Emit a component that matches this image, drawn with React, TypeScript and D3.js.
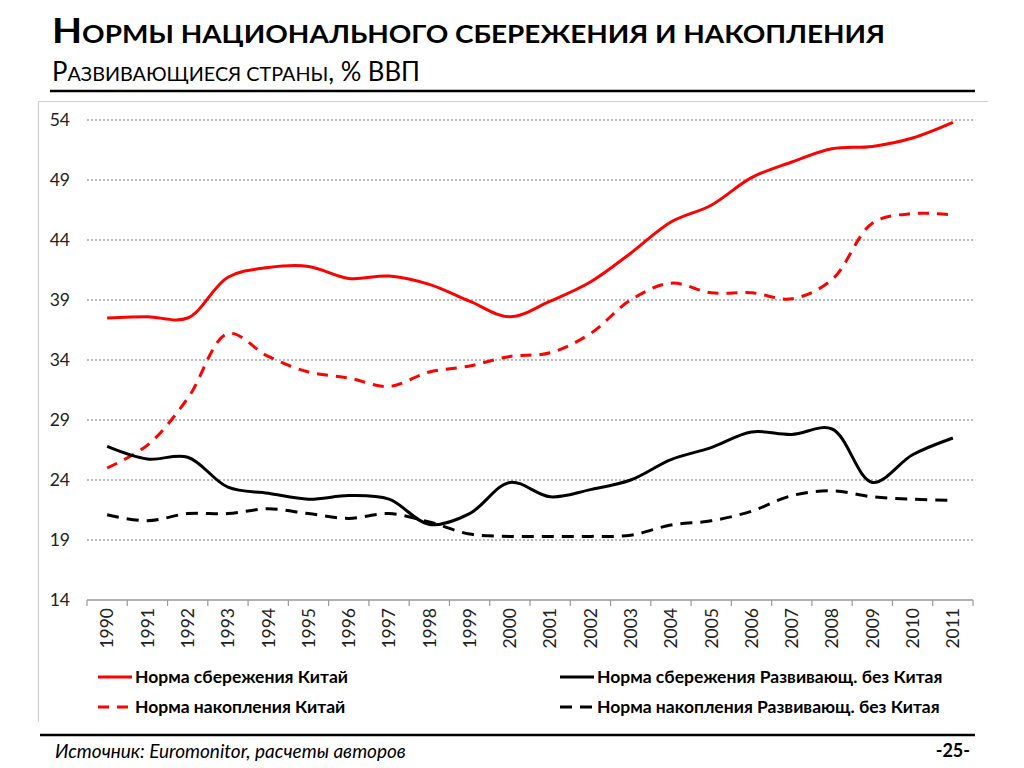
import React from "react";
import * as d3 from "d3";

const years = ["1990","1991","1992","1993","1994","1995","1996","1997","1998","1999","2000","2001","2002","2003","2004","2005","2006","2007","2008","2009","2010","2011"];
const savingsChina = [37.5,37.6,37.5,40.9,41.7,41.8,40.8,41.0,40.3,38.9,37.6,38.9,40.5,42.9,45.5,46.9,49.2,50.5,51.6,51.8,52.5,53.8];
const accumChina = [25.0,26.9,30.8,36.2,34.3,33.0,32.5,31.8,33.0,33.5,34.3,34.6,36.2,39.0,40.4,39.6,39.6,39.1,40.7,45.4,46.2,46.1];
const savingsDev = [26.8,25.75,25.9,23.4,22.9,22.4,22.7,22.4,20.3,21.2,23.8,22.6,23.2,24.0,25.7,26.7,28.0,27.8,28.25,23.8,26.1,27.5];
const accumDev = [21.1,20.6,21.2,21.2,21.6,21.2,20.8,21.2,20.5,19.5,19.3,19.3,19.3,19.4,20.25,20.6,21.4,22.7,23.1,22.6,22.4,22.3];
const yTicks = [14,19,24,29,34,39,44,49,54];

const seriesNames = [
  "Норма сбережения Китай",
  "Норма накопления Китай",
  "Норма сбережения Развивающ. без Китая",
  "Норма накопления Развивающ. без Китая",
];

const FONT = "Lato, 'Open Sans', sans-serif";

export default function App() {
  const x = d3.scaleBand<string>().domain(years).range([87, 973]).padding(0);
  const y = d3.scaleLinear().domain([14, 54]).range([600, 120]);
  const cx = (yr: string) => (x(yr) as number) + x.bandwidth() / 2;
  const line = d3
    .line<number>()
    .x((_, i) => cx(years[i]))
    .y((d) => y(d))
    .curve(d3.curveCatmullRom.alpha(0.5));

  const series = [
    { name: seriesNames[0], data: savingsChina, color: "#ff0000", dash: undefined },
    { name: seriesNames[1], data: accumChina, color: "#ff0000", dash: "11,8" },
    { name: seriesNames[2], data: savingsDev, color: "#000000", dash: undefined },
    { name: seriesNames[3], data: accumDev, color: "#000000", dash: "12,8" },
  ];

  const boundaries = d3.range(years.length + 1).map((i) => 87 + i * x.bandwidth());

  const legendPos = [
    { lx: 98, ly: 677 },
    { lx: 98, ly: 707 },
    { lx: 560, ly: 677 },
    { lx: 560, ly: 707 },
  ];

  return (
    <div style={{ position: "fixed", left: 0, top: 0 }}>
      <svg width={1024} height={768} style={{ display: "block", background: "#fff" }}>
        {/* title */}
        <text x={52} y={43} fontFamily={FONT} fontWeight={700} fill="#000" textLength={833} lengthAdjust="spacingAndGlyphs">
          <tspan fontSize={35}>Н</tspan>
          <tspan fontSize={25}>ОРМЫ НАЦИОНАЛЬНОГО СБЕРЕЖЕНИЯ И НАКОПЛЕНИЯ</tspan>
        </text>
        <text x={52} y={81} fontFamily={FONT} fontWeight={400} fill="#000" textLength={368} lengthAdjust="spacingAndGlyphs">
          <tspan fontSize={26}>Р</tspan>
          <tspan fontSize={20}>АЗВИВАЮЩИЕСЯ СТРАНЫ</tspan>
          <tspan fontSize={26}>, % ВВП</tspan>
        </text>
        <line x1={50} x2={975} y1={91} y2={91} stroke="#000" strokeWidth={2.5} />

        {/* chart frame */}
        <line x1={38} x2={988} y1={101.5} y2={101.5} stroke="#cfcfcf" strokeWidth={1.2} />
        <line x1={38.5} x2={38.5} y1={101} y2={722} stroke="#cfcfcf" strokeWidth={1.2} />

        {/* grid */}
        {yTicks.filter((t) => t !== 14).map((t) => (
          <line key={t} x1={87} x2={973} y1={y(t)} y2={y(t)} stroke="#777" strokeWidth={1} strokeDasharray="2,2" />
        ))}
        {yTicks.map((t) => (
          <text key={"yl" + t} x={70} y={y(t)} dy="0.36em" textAnchor="end" fontFamily={FONT} fontSize={17.5} fill="#222">
            {t}
          </text>
        ))}

        {/* x axis */}
        <line x1={87} x2={973} y1={600} y2={600} stroke="#999" strokeWidth={1.5} />
        {boundaries.map((b, i) => (
          <line key={"tk" + i} x1={b} x2={b} y1={600} y2={606} stroke="#999" strokeWidth={1.2} />
        ))}
        {years.map((yr) => (
          <text
            key={"xl" + yr}
            transform={`translate(${cx(yr)},${608}) rotate(-90)`}
            textAnchor="end"
            dy="0.36em"
            fontFamily={FONT}
            fontSize={17.5}
            fill="#222"
          >
            {yr}
          </text>
        ))}

        {/* lines */}
        {series.map((s) => (
          <path
            key={s.name}
            d={line(s.data) as string}
            fill="none"
            stroke={s.color}
            strokeWidth={3}
            strokeDasharray={s.dash}
            strokeLinejoin="round"
          />
        ))}

        {/* legend */}
        {series.map((s, i) => (
          <g key={"lg" + i}>
            <line
              x1={legendPos[i].lx}
              x2={legendPos[i].lx + 34}
              y1={legendPos[i].ly}
              y2={legendPos[i].ly}
              stroke={s.color}
              strokeWidth={3}
              strokeDasharray={s.dash}
            />
            <text x={legendPos[i].lx + 37} y={legendPos[i].ly} dy="0.36em" fontFamily={FONT} fontWeight={700} fontSize={17.5} fill="#000">
              {s.name}
            </text>
          </g>
        ))}

        {/* footer */}
        <line x1={40} x2={975} y1={735} y2={735} stroke="#000" strokeWidth={2.5} />
        <text x={55} y={758} fontFamily={FONT} fontStyle="italic" fontSize={19} fill="#000">
          Источник: Euromonitor, расчеты авторов
        </text>
        <text x={970} y={757} textAnchor="end" fontFamily={FONT} fontWeight={700} fontSize={18} fill="#000">
          -25-
        </text>
      </svg>
    </div>
  );
}
